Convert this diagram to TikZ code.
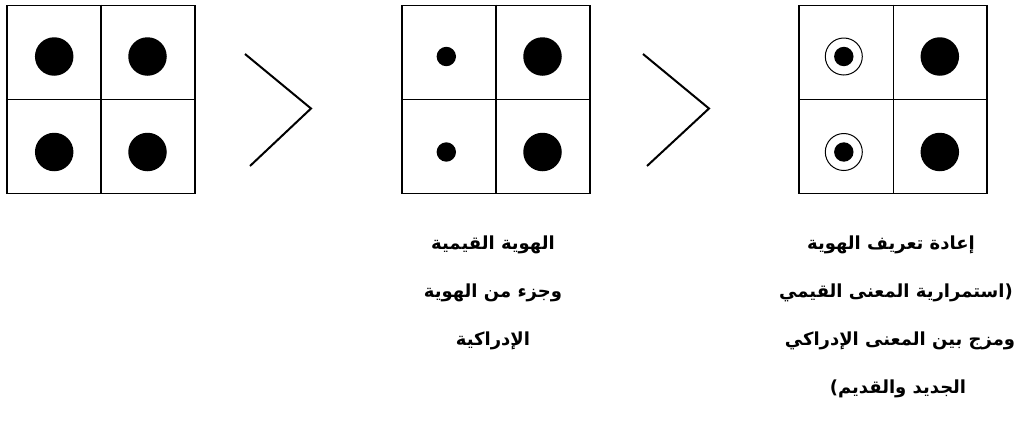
\documentclass[tikz,border=0pt]{standalone}
\usepackage{fontspec}
\newfontfamily\arabicfont[Script=Arabic]{DejaVu Sans}
\TeXXeTstate=1
\begin{document}
\begin{tikzpicture}[x=1pt,y=-1pt,
  gridbox/.style={draw, line width=1.8pt, minimum width=188pt, minimum height=188pt, inner sep=0pt},
  divider/.style={line width=1.6pt},
  bigdot/.style={circle, fill=black, minimum size=38.5pt, inner sep=0pt},
  smalldot/.style={circle, fill=black, minimum size=19.4pt, inner sep=0pt},
  ring/.style={circle, draw, line width=1pt, minimum size=37pt, inner sep=0pt},
  chev/.style={line width=2pt},
  lbl/.style={font=\arabicfont\bfseries\fontsize{18}{21}\selectfont, inner sep=0pt}]
\useasboundingbox (0,0) rectangle (1021,421);
% grids
\node[gridbox] (g1) at (100.8,99.5) {};
\node[gridbox] (g2) at (495.8,99.5) {};
\node[gridbox] (g3) at (893.3,99.5) {};
\foreach \g in {g1,g2,g3}{
  \draw[divider] (\g.north) -- (\g.south);
  \draw[divider] (\g.west) -- (\g.east);
}
% grid 1 dots
\node[bigdot] (a1) at (54.2,56.5) {};
\node[bigdot] (a2) at (147.5,56.5) {};
\node[bigdot] (a3) at (54.2,152) {};
\node[bigdot] (a4) at (147.5,152) {};
% grid 2 dots
\node[smalldot] (b1) at (446.3,56.5) {};
\node[bigdot] (b2) at (542.5,56.5) {};
\node[smalldot] (b3) at (446.3,152) {};
\node[bigdot] (b4) at (542.5,152) {};
% grid 3 dots
\node[ring] (c1r) at (843.8,56.5) {};
\node[smalldot] (c1) at (843.8,56.5) {};
\node[bigdot] (c2) at (939.8,56.5) {};
\node[ring] (c3r) at (843.8,152) {};
\node[smalldot] (c3) at (843.8,152) {};
\node[bigdot] (c4) at (939.8,152) {};
% chevrons
\coordinate (p1a) at (245,54);
\coordinate (p1b) at (311,108.5);
\coordinate (p1c) at (250,166);
\coordinate (p2a) at (643,54);
\coordinate (p2b) at (709,108.5);
\coordinate (p2c) at (647,166);
\draw[chev] (p1a) -- (p1b) -- (p1c);
\draw[chev] (p2a) -- (p2b) -- (p2c);
% labels under grid 2
\node[lbl] (t21) at (493,245) {\beginR الهوية القيمية\endR};
\node[lbl] (t22) at (493,293) {\beginR وجزء من الهوية\endR};
\node[lbl] (t23) at (493,341) {\beginR الإدراكية\endR};
% labels under grid 3
\node[lbl] (t31) at (891,245) {\beginR إعادة تعريف الهوية\endR};
\node[lbl] (t32) at (896,293) {\beginR (استمرارية المعنى القيمي\endR};
\node[lbl] (t33) at (900,341) {\beginR ومزج بين المعنى الإدراكي\endR};
\node[lbl] (t34) at (898,389) {\beginR الجديد والقديم)\endR};
\end{tikzpicture}
\end{document}
